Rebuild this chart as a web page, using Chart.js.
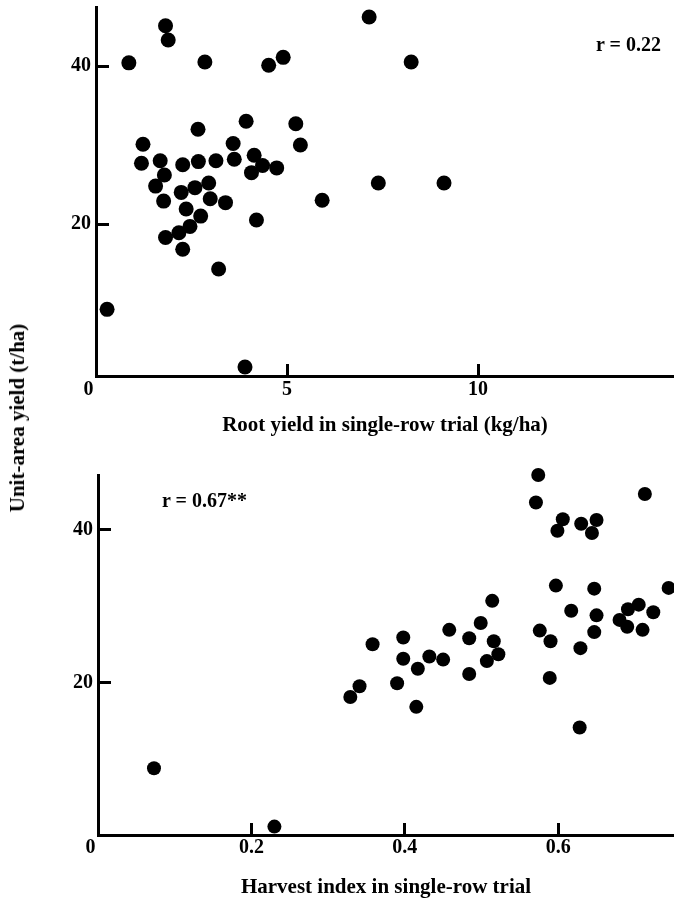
<!DOCTYPE html>
<html>
<head>
<meta charset="utf-8">
<script src="https://cdn.jsdelivr.net/npm/chart.js@4/dist/chart.umd.min.js"></script>
<style>
  body { margin: 0; background: #fff; }
  #wrap { position: relative; width: 674px; height: 900px; overflow: hidden; font-family: "Liberation Serif", serif; font-weight: bold; color: #000; }
  canvas { position: absolute; left: 0; }
  .note { position: absolute; font-size: 20px; line-height: 24px; white-space: nowrap; }
  #ytitle { position: absolute; font-size: 21px; line-height: 24px; white-space: nowrap; transform: translate(-50%, -50%) rotate(-90deg); left: 17px; top: 418px; }
</style>
</head>
<body>
<div id="wrap">
  <canvas id="top-chart" width="674" height="445" style="top:0"></canvas>
  <canvas id="bottom-chart" width="674" height="455" style="top:445px"></canvas>
  <div id="ytitle">Unit-area yield (t/ha)</div>
  <div class="note" style="right:13px; top:32px;">r = 0.22</div>
  <div class="note" style="left:162px; top:488px;">r = 0.67**</div>
</div>
<script>
// top panel: root yield in single-row trial vs unit-area yield
const rootYield = [1.82, 1.89, 0.86, 2.85, 4.52, 4.90, 3.93, 2.67, 5.23, 5.35,
  1.23, 1.19, 1.68, 1.79, 1.56, 1.77, 2.27, 2.68, 3.14, 3.59,
  3.62, 4.14, 4.07, 4.36, 4.73, 2.23, 2.59, 2.95, 2.99, 3.39,
  2.36, 2.74, 2.46, 2.17, 1.82, 2.27, 4.20, 3.21, 5.92, 0.29,
  3.90, 7.15, 8.25, 7.39, 9.11];
const yieldTop = [45.1, 43.3, 40.4, 40.5, 40.1, 41.1, 33.0, 32.0, 32.7, 30.0,
  30.1, 27.7, 28.0, 26.2, 24.8, 22.9, 27.5, 27.9, 28.0, 30.2,
  28.2, 28.7, 26.5, 27.4, 27.1, 24.0, 24.6, 25.2, 23.2, 22.7,
  21.9, 21.0, 19.7, 18.9, 18.3, 16.8, 20.5, 14.3, 23.0, 9.2,
  1.9, 46.2, 40.5, 25.2, 25.2];

// bottom panel: harvest index in single-row trial vs unit-area yield
const harvestIndex = [0.073, 0.230, 0.574, 0.571, 0.713, 0.606, 0.599, 0.630, 0.650, 0.644,
  0.597, 0.647, 0.744, 0.514, 0.617, 0.650, 0.691, 0.705, 0.724, 0.680,
  0.690, 0.710, 0.647, 0.576, 0.590, 0.629, 0.589, 0.628, 0.499, 0.458,
  0.484, 0.516, 0.522, 0.507, 0.484, 0.450, 0.432, 0.417, 0.398, 0.398,
  0.358, 0.390, 0.415, 0.341, 0.329];
const yieldBottom = [8.75, 1.1, 47.2, 43.6, 44.7, 41.4, 39.9, 40.8, 41.3, 39.6,
  32.7, 32.3, 32.4, 30.7, 29.4, 28.8, 29.6, 30.2, 29.2, 28.2,
  27.3, 26.9, 26.6, 26.8, 25.4, 24.5, 20.6, 14.1, 27.8, 26.9,
  25.8, 25.4, 23.7, 22.8, 21.1, 23.0, 23.4, 21.8, 25.9, 23.1,
  25.0, 19.9, 16.8, 19.5, 18.1];

const xTicksTop = [0, 5, 10];
const xTicksBottom = [0, 0.2, 0.4, 0.6];
const yTicks = [20, 40];

const tickFont = { family: "Liberation Serif", weight: "bold", size: 20 };
const titleFont = { family: "Liberation Serif", weight: "bold", size: 21 };

// scales add label padding to the chart edges; zero it so the plot area stays where we put it
function noEdgePadding(s) {
  s.paddingTop = 0;
  s.paddingBottom = 0;
  s.paddingLeft = 0;
  s.paddingRight = 0;
}

function makeChart(id, xs, ys, cfg) {
  const points = xs.map((x, i) => ({ x: x, y: ys[i] }));
  return new Chart(document.getElementById(id), {
    type: "scatter",
    data: {
      datasets: [{
        data: points,
        backgroundColor: "#000",
        borderWidth: 0,
        pointRadius: cfg.radius,
        pointHoverRadius: cfg.radius,
        clip: false
      }]
    },
    options: {
      responsive: false,
      animation: false,
      devicePixelRatio: 1,
      events: [],
      layout: { autoPadding: false, padding: { top: cfg.padTop, left: 0, right: 0, bottom: 0 } },
      plugins: { legend: { display: false }, tooltip: { enabled: false } },
      scales: {
        x: {
          type: "linear",
          min: 0,
          max: cfg.xMax,
          afterBuildTicks: s => { s.ticks = cfg.xTicks.map(v => ({ value: v })); },
          afterFit: s => { s.height = cfg.xHeight; noEdgePadding(s); },
          ticks: {
            color: "#000",
            font: tickFont,
            padding: cfg.xPad,
            maxRotation: 0,
            autoSkip: false,
            callback: v => v === 0 ? "0   " : cfg.fmt(v)
          },
          grid: { drawOnChartArea: false, color: "#000", lineWidth: 3, tickLength: -12 },
          border: { color: "#000", width: 3 },
          title: {
            display: true,
            text: cfg.xTitle,
            color: "#000",
            font: titleFont,
            padding: { top: 0, bottom: cfg.titlePad }
          }
        },
        y: {
          type: "linear",
          min: cfg.yMin,
          max: cfg.yMax,
          afterBuildTicks: s => { s.ticks = yTicks.map(v => ({ value: v })); },
          afterFit: s => { s.width = cfg.yWidth; noEdgePadding(s); },
          ticks: { color: "#000", font: tickFont, padding: 18 },
          grid: { drawOnChartArea: false, color: "#000", lineWidth: 3, tickLength: -13 },
          border: { color: "#000", width: 3 }
        }
      }
    }
  });
}

makeChart("top-chart", rootYield, yieldTop, {
  radius: 7.5, padTop: 7, xMax: 15.13, yMin: 0.76, yMax: 47.47, xTicks: xTicksTop,
  xHeight: 69, xPad: 14, yWidth: 96, titlePad: 7,
  fmt: v => String(v),
  xTitle: "Root yield in single-row trial (kg/ha)"
});

makeChart("bottom-chart", harvestIndex, yieldBottom, {
  radius: 7, padTop: 30, xMax: 0.751, yMin: 0, yMax: 47.2, xTicks: xTicksBottom,
  xHeight: 65, xPad: 13, yWidth: 98, titlePad: 0,
  fmt: v => v.toFixed(1),
  xTitle: "Harvest index in single-row trial"
});
</script>
</body>
</html>
